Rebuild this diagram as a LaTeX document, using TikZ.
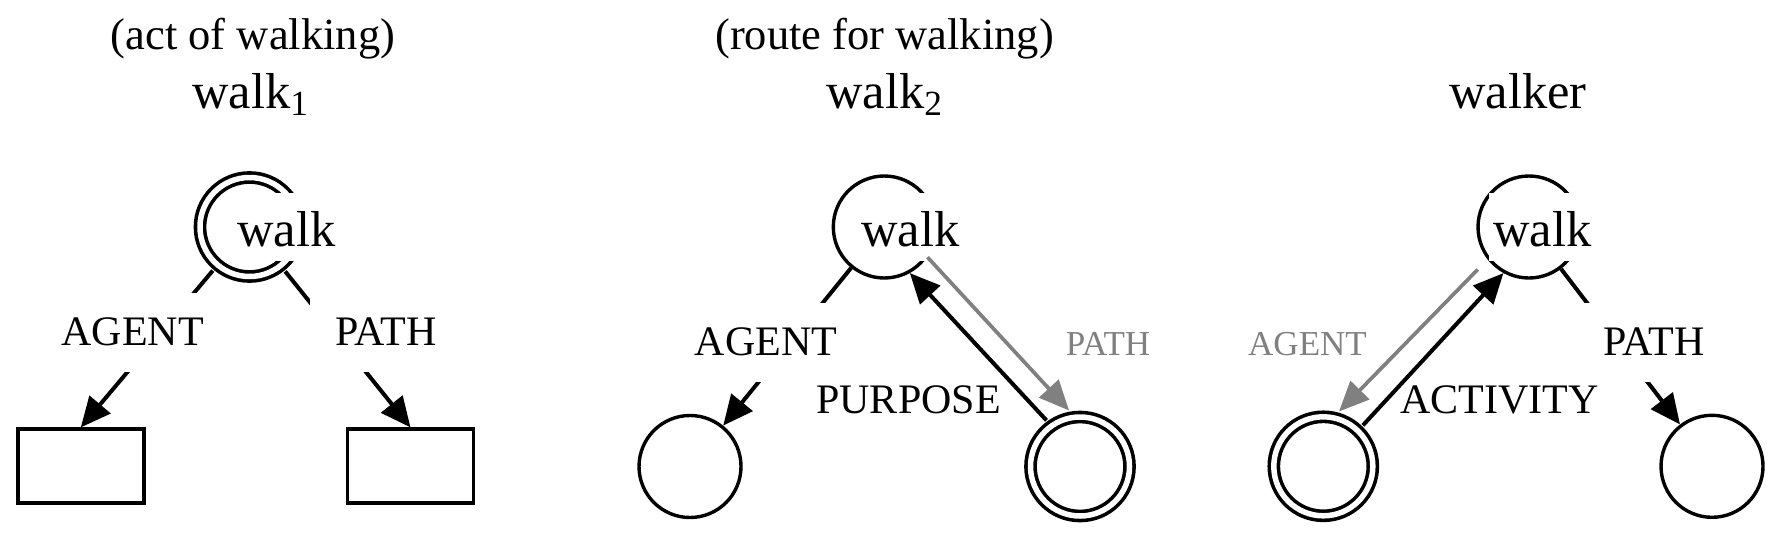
\documentclass[tikz,border=0pt]{standalone}
\usepackage{fontspec}
\setmainfont{Liberation Serif}
\usepackage{tikz}
\usetikzlibrary{arrows.meta}

\begin{document}
\begin{tikzpicture}[
		concept/.style={draw, circle, line width=0.034cm, minimum size=1.02cm, inner sep=0pt},
		dblconcept/.style={draw, circle, double, double distance=0.055cm, line width=0.036cm, minimum size=0.99cm, inner sep=0pt, outer sep=0.075cm},
		slot/.style={draw, rectangle, line width=0.036cm, minimum width=1.26cm, minimum height=0.74cm, inner sep=0pt},
		word/.style={fill=white, anchor=base, inner xsep=0.04cm, inner ysep=0pt, text height=0.54cm, text depth=0.14cm, font=\fontsize{14.37pt}{17pt}\selectfont},
		title/.style={anchor=base, inner sep=0pt, font=\fontsize{14.37pt}{17pt}\selectfont},
		gloss/.style={anchor=base, inner sep=0pt, font=\fontsize{12.66pt}{15pt}\selectfont},
		role/.style={anchor=base, inner sep=0pt, font=\fontsize{11.95pt}{14pt}\selectfont},
		cut/.style={role, fill=white, inner xsep=0.25cm, text height=0.52cm, text depth=0.27cm},
		inverse/.style={anchor=base, inner sep=0pt, text=black!50, font=\fontsize{9.96pt}{12pt}\selectfont},
		arrow/.style={-{Triangle[length=0.3cm, width=0.27cm]}, line width=0.04cm},
		grayarrow/.style={-{Triangle[length=0.3cm, width=0.26cm]}, line width=0.037cm, black!50}
		]
		\useasboundingbox (0,0) rectangle (17.76,5.45);
		
		% ----- walk_1: act of walking -----
		\node[gloss] (g1) at (2.53, 4.95) {(act of walking)};
		\node[title] (h1) at (2.51, 4.37) {walk\textsubscript{1}};
		
		\node[dblconcept] (w1) at (2.495, 3.18) {};
		\node[word] (t1) at (2.865, 2.983) {walk};
		\node[slot] (b1) at (0.808, 0.788) {};
		\node[slot] (b2) at (4.105, 0.788) {};
		
		\draw[arrow] (w1) -- (b1.north);
		\draw[arrow] (w1) -- (b2.north);
		\node[cut] (a1) at (1.328, 2.00) {AGENT};
		\node[cut] (p1) at (3.858, 2.00) {PATH};
		
		% ----- walk_2: route for walking -----
		\node[gloss] (g2) at (8.846, 4.95) {(route for walking)};
		\node[title] (h2) at (8.85, 4.37) {walk\textsubscript{2}};
		
		\node[concept] (w2) at (8.843, 3.18) {};
		\node[word] (t2) at (9.105, 2.983) {walk};
		\node[concept] (c2) at (6.90, 0.785) {};
		\node[dblconcept] (d2) at (10.80, 0.785) {};
		
		\draw[arrow] (w2) -- (c2);
		\draw[arrow] (d2.126) -- (w2.-61);
		\draw[grayarrow] (w2.-35) -- (d2.101);
		\node[cut] (a2) at (7.66, 1.90) {AGENT};
		\node[role] (u2) at (9.085, 1.32) {PURPOSE};
		\node[inverse] (p2) at (11.08, 1.90) {PATH};
		
		% ----- walker -----
		\node[title] (h3) at (15.18, 4.37) {walker};
		
		\node[concept] (w3) at (15.29, 3.18) {};
		\node[word] (t3) at (15.423, 2.983) {walk};
		\node[dblconcept] (d3) at (13.233, 0.787) {};
		\node[concept] (c3) at (17.12, 0.787) {};
		
		\draw[arrow] (w3) -- (c3);
		\draw[arrow] (d3.46) -- (w3.-119);
		\draw[grayarrow, shorten <=0.14cm] (w3.-142) -- (d3.74);
		\node[inverse] (a3) at (13.075, 1.90) {AGENT};
		\node[role] (v3) at (14.997, 1.317) {ACTIVITY};
		\node[cut] (p3) at (16.54, 1.90) {PATH};
		
	\end{tikzpicture}
\end{document}
